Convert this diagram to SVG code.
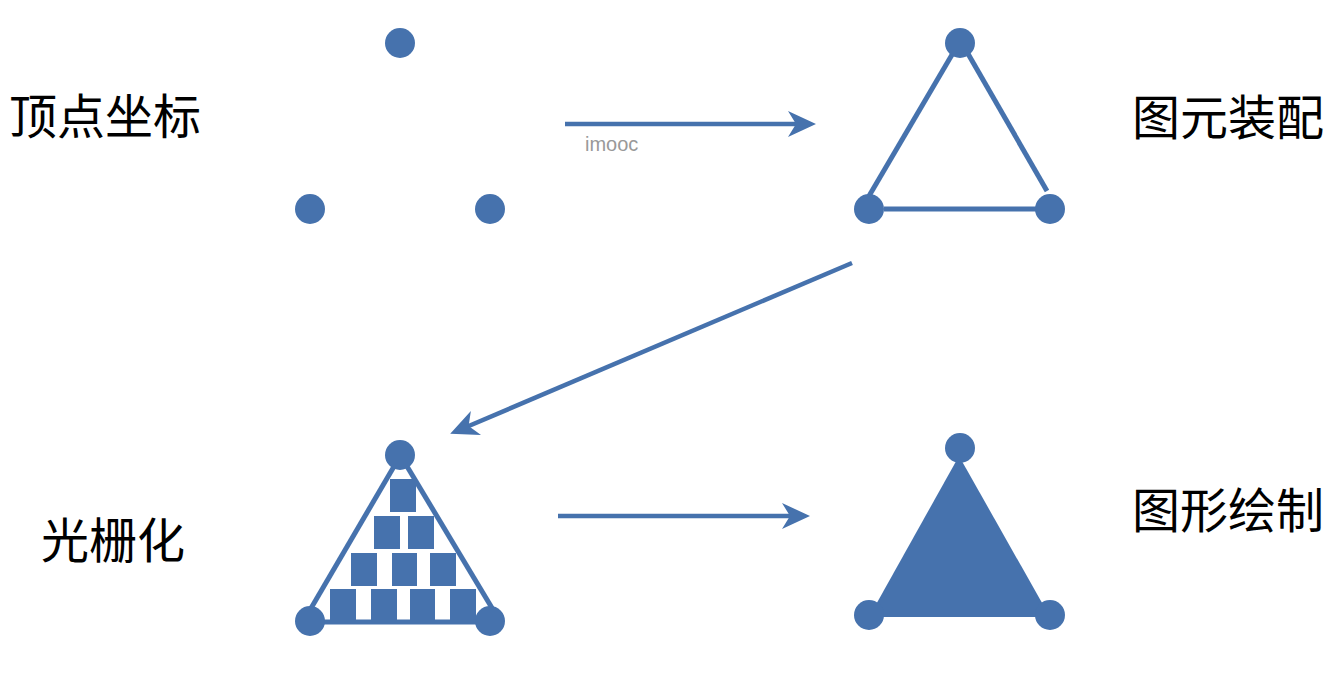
<svg xmlns="http://www.w3.org/2000/svg" width="1334" height="673" viewBox="0 0 1334 673">
  <style>
    .dot { fill: #4672AD; }
    .edge { stroke: #4672AD; stroke-width: 5; fill: none; }
    .px { fill: #4672AD; }
    .conn { stroke: #4672AD; stroke-width: 4.5; fill: none; }
    .label { font-family: "Noto Sans CJK SC", "Noto Sans", sans-serif; font-size: 48px; fill: #000; }
    .small { font-family: "Liberation Sans", Arial, sans-serif; font-size: 20px; fill: #999; }
  </style>
  <defs>
    <marker id="head" markerUnits="userSpaceOnUse" markerWidth="32" markerHeight="30" viewBox="0 0 32 30" refX="15" refY="15" orient="auto">
      <path d="M2,2 L30,15 L2,28 L10,15 Z" fill="#4672AD"/>
    </marker>
  </defs>
  <rect width="1334" height="673" fill="#fff"/>

  <g id="label-vertices"><text class="label" x="9" y="134">顶点坐标</text></g>
  <g id="label-assembly"><text class="label" x="1132" y="135">图元装配</text></g>
  <g id="label-raster"><text class="label" x="41" y="558">光栅化</text></g>
  <g id="label-draw"><text class="label" x="1132" y="528">图形绘制</text></g>

  <g id="stage-vertices">
    <circle class="dot" cx="400" cy="43" r="15"/>
    <circle class="dot" cx="310" cy="209" r="15"/>
    <circle class="dot" cx="490" cy="209" r="15"/>
  </g>

  <g id="stage-assembly">
    <line class="edge" x1="869" y1="196" x2="953" y2="53"/>
    <line class="edge" x1="967" y1="52" x2="1047" y2="191"/>
    <line class="edge" x1="884" y1="209" x2="1037" y2="209"/>
    <circle class="dot" cx="960" cy="43" r="15"/>
    <circle class="dot" cx="869" cy="209" r="15"/>
    <circle class="dot" cx="1050" cy="209" r="15"/>
  </g>

  <g id="stage-raster">
    <line class="edge" x1="310" y1="610" x2="396" y2="463"/>
    <line class="edge" x1="405" y1="463" x2="492" y2="608"/>
    <line class="edge" x1="322" y1="622" x2="480" y2="622"/>
    <rect class="px" x="390" y="479" width="26" height="33"/>
    <rect class="px" x="374" y="516" width="26" height="33"/>
    <rect class="px" x="408" y="516" width="26" height="33"/>
    <rect class="px" x="351" y="553" width="26" height="33"/>
    <rect class="px" x="392" y="553" width="25" height="33"/>
    <rect class="px" x="430" y="553" width="26" height="33"/>
    <rect class="px" x="330" y="589" width="26" height="33"/>
    <rect class="px" x="371" y="589" width="26" height="33"/>
    <rect class="px" x="410" y="589" width="25" height="33"/>
    <rect class="px" x="450" y="589" width="26" height="33"/>
    <circle class="dot" cx="400" cy="455" r="15"/>
    <circle class="dot" cx="310" cy="621" r="15"/>
    <circle class="dot" cx="490" cy="621" r="15"/>
  </g>

  <g id="stage-draw">
    <polygon class="px" points="959,456 869,617 1050,617"/>
    <circle class="dot" cx="960" cy="448" r="15"/>
    <circle class="dot" cx="869" cy="615" r="15"/>
    <circle class="dot" cx="1050" cy="615" r="15"/>
  </g>

  <g id="connectors">
    <line class="conn" x1="565" y1="124" x2="801" y2="124" marker-end="url(#head)"/>
    <text class="small" x="585" y="151">imooc</text>
    <line class="conn" x1="852" y1="263" x2="464" y2="428" marker-end="url(#head)"/>
    <line class="conn" x1="558" y1="516" x2="795" y2="516" marker-end="url(#head)"/>
  </g>
</svg>
